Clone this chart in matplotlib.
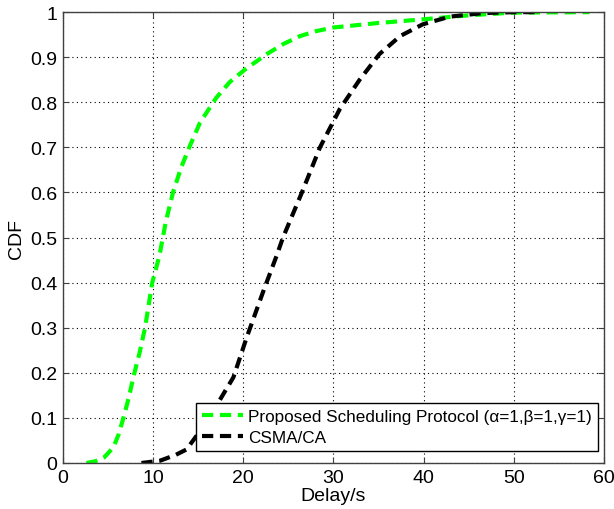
import matplotlib
matplotlib.use("Agg")
import matplotlib.pyplot as plt

# Data
prop_x = [2.6, 3.6, 4.6, 5.6, 6.2, 6.7, 7.3, 7.8, 8.5, 9.1, 9.9, 10.7, 11.4, 12.2, 13.1, 14.0, 15.2, 17.0, 18.5, 20.2, 22.6, 24.5, 26.3, 28.1, 30.0, 35.0, 39.9, 45.0, 49.9, 58.4]
prop_y = [0.0, 0.004, 0.013, 0.035, 0.065, 0.10, 0.145, 0.19, 0.245, 0.30, 0.40, 0.46, 0.535, 0.60, 0.655, 0.70, 0.755, 0.81, 0.845, 0.873, 0.907, 0.930, 0.947, 0.958, 0.966, 0.976, 0.984, 0.993, 0.999, 1.0]

csma_x = [8.7, 10.75, 12.5, 13.7, 14.8, 16.0, 17.4, 18.9, 20.4, 22.2, 23.7, 24.4, 26.5, 28.5, 30.7, 32.9, 35.1, 37.4, 39.9, 42.9, 46.6, 50.0, 53.0]
csma_y = [0.0, 0.005, 0.018, 0.03, 0.06, 0.10, 0.14, 0.19, 0.28, 0.38, 0.46, 0.50, 0.60, 0.70, 0.785, 0.85, 0.907, 0.947, 0.973, 0.99, 0.998, 1.0, 1.0]

labels = ["Proposed Scheduling Protocol (\u03b1=1,\u03b2=1,\u03b3=1)", "CSMA/CA"]
colors = ["#00ff00", "#000000"]

plt.rcParams['font.family'] = ['Liberation Sans', 'DejaVu Sans']

fig = plt.figure(figsize=(6.14, 5.10), dpi=100)
ax = fig.add_axes([0.1026, 0.0902, 0.881, 0.884])

ax.plot(prop_x, prop_y, color=colors[0], lw=3, ls=(0, (2.7, 1.6)), label=labels[0])
ax.plot(csma_x, csma_y, color=colors[1], lw=3, ls=(0, (2.7, 1.6)), label=labels[1])

ax.set_xlim(0, 60)
ax.set_ylim(0, 1)
ax.set_xticks(range(0, 61, 10))
ax.set_yticks([i / 10 for i in range(11)])
ax.set_yticklabels(["0", "0.1", "0.2", "0.3", "0.4", "0.5", "0.6", "0.7", "0.8", "0.9", "1"])
ax.grid(True, color="black", ls=(0, (1, 3)), lw=0.8)
ax.tick_params(direction="in", top=True, right=True, labelsize=14, length=4, color="#404040", pad=4)
for s in ax.spines.values():
    s.set_color("#404040")
    s.set_linewidth(1.0)

ax.set_xlabel("Delay/s", fontsize=14, labelpad=1)
ax.set_ylabel("CDF", fontsize=14, labelpad=4)

leg = ax.legend(loc="lower right", bbox_to_anchor=(0.989, 0.027), borderaxespad=0,
                fontsize=12.3, fancybox=False, edgecolor="black", framealpha=1,
                handlelength=2.4, handletextpad=0.3, borderpad=0.35, labelspacing=0.35)
leg.get_frame().set_linewidth(1.0)

fig.savefig("out.png", dpi=100)
